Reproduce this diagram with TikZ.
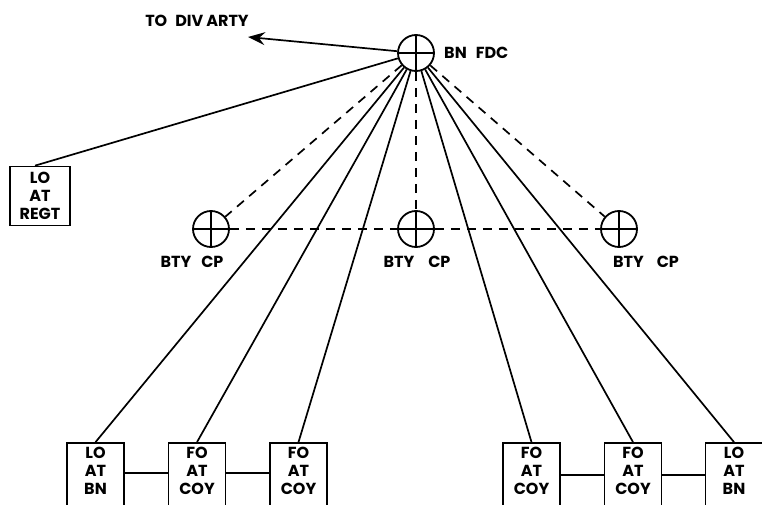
\documentclass[tikz,border=0pt]{standalone}
\usepackage{fontspec}
\setmainfont{Poppins}
\usepackage{tikz}
\usetikzlibrary{arrows.meta, positioning}

\begin{document}
\begin{tikzpicture}[x=1pt, y=-1pt,
  every node/.style={font=\fontsize{16}{18}\selectfont\bfseries},
  post/.style={draw, circle, line width=1.8pt, minimum size=36pt, inner sep=0pt,
               fill=white,
               path picture={\draw[line width=1.8pt]
                 (path picture bounding box.north) -- (path picture bounding box.south)
                 (path picture bounding box.west) -- (path picture bounding box.east);}},
  unitbox/.style={draw, rectangle, line width=1.7pt, minimum width=57pt,
                  minimum height=74pt, inner sep=0pt, align=center},
  lbl/.style={inner sep=1pt},
  link/.style={line width=1.7pt},
  radio/.style={line width=1.7pt, dash pattern=on 9pt off 7pt}
]
\useasboundingbox (0,0) rectangle (762,505);

%--- Command posts ---
\node[post] (fdc)  at (416,53)  {};
\node[post] (btyl) at (211,229) {};
\node[post] (btym) at (416,229) {};
\node[post] (btyr) at (619,229) {};

\node[lbl, anchor=west] (fdclbl) at (443,53) {BN\hspace{9pt}FDC};
\node[lbl] (btyllbl) at (192,262) {BTY\hspace{10pt}CP};
\node[lbl] (btymlbl) at (417,262) {BTY\hspace{14pt}CP};
\node[lbl] (btyrlbl) at (646,262) {BTY\hspace{13pt}CP};

%--- Liaison / observer boxes ---
\node[unitbox, minimum width=60pt, minimum height=59pt] (regt) at (40,196) {LO\\AT\\REGT};
\node[unitbox] (bnl)   at (95.5,480)  {LO\\AT\\BN\\\mbox{}};
\node[unitbox] (coy1)  at (197,480)   {FO\\AT\\COY\\\mbox{}};
\node[unitbox] (coy2)  at (298.5,480) {FO\\AT\\COY\\\mbox{}};
\node[unitbox] (coy3)  at (531.5,480) {FO\\AT\\COY\\\mbox{}};
\node[unitbox] (coy4)  at (633,480)   {FO\\AT\\COY\\\mbox{}};
\node[unitbox] (bnr)   at (734,480)   {LO\\AT\\BN\\\mbox{}};

%--- To div arty ---
\coordinate (divend) at (248,37);
\node[lbl] (divlbl) at (197,21) {TO\hspace{8pt}DIV\hspace{3pt}ARTY};
\draw[link, -{Stealth[length=17pt, width=13pt, inset=6pt]}] (fdc) -- (divend);

% radio nets
\draw[radio] (fdc) -- (btyl);
\draw[radio] (fdc) -- (btym);
\draw[radio] (fdc) -- (btyr);
\draw[radio] (btyl) -- (btym);
\draw[radio] (btym) -- (btyr);

% lines
\draw[link] (fdc) -- ([xshift=-5pt]regt.north);
\draw[link] (fdc) -- (bnl.north);
\draw[link] (fdc) -- (coy1.north);
\draw[link] (fdc) -- (coy2.north);
\draw[link] (fdc) -- (coy3.north);
\draw[link] (fdc) -- (coy4.north);
\draw[link] (fdc) -- (bnr.north);

% laterals
\draw[link] ([yshift=7pt]bnl.east)  -- ([yshift=7pt]coy1.west);
\draw[link] ([yshift=7pt]coy1.east) -- ([yshift=7pt]coy2.west);
\draw[link] ([yshift=5pt]coy3.east) -- ([yshift=5pt]coy4.west);
\draw[link] ([yshift=5pt]coy4.east) -- ([yshift=5pt]bnr.west);

\end{tikzpicture}
\end{document}
